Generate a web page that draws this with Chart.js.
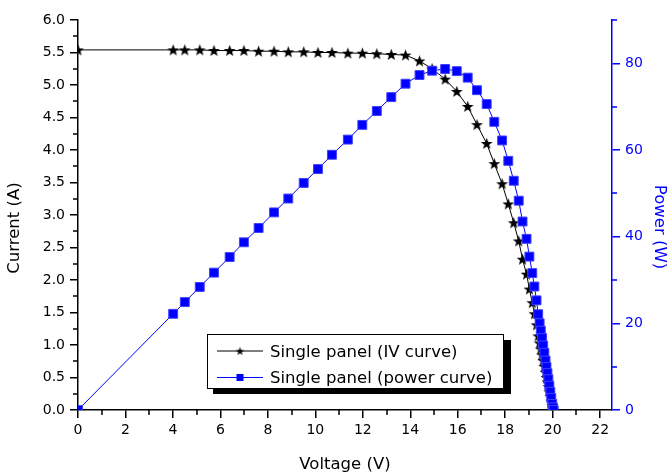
<!DOCTYPE html>
<html><head><meta charset="utf-8">
<script src="https://cdn.jsdelivr.net/npm/chart.js@4"></script>
<style>html,body{margin:0;padding:0;background:#fff}canvas{display:block}</style>
</head><body>
<canvas id="c" width="670" height="472"></canvas>
<script>
const voltage = [0, 4.01, 4.50, 5.13, 5.73, 6.39, 6.99, 7.61, 8.26, 8.86, 9.51, 10.11, 10.70, 11.37, 11.98, 12.59, 13.20, 13.80, 14.39, 14.92, 15.47, 15.96, 16.42, 16.81, 17.22, 17.54, 17.87, 18.13, 18.36, 18.57, 18.73, 18.90, 19.02, 19.14, 19.23, 19.32, 19.39, 19.45, 19.50, 19.55, 19.60, 19.65, 19.70, 19.74, 19.78, 19.82, 19.86, 19.90, 19.94, 19.98, 20.01, 20.04];
const current = [5.54, 5.54, 5.54, 5.54, 5.53, 5.53, 5.53, 5.52, 5.52, 5.51, 5.51, 5.50, 5.50, 5.49, 5.49, 5.48, 5.47, 5.46, 5.37, 5.25, 5.09, 4.90, 4.67, 4.39, 4.10, 3.79, 3.48, 3.17, 2.88, 2.60, 2.32, 2.09, 1.86, 1.65, 1.48, 1.31, 1.14, 1.03, 0.94, 0.85, 0.76, 0.67, 0.58, 0.50, 0.43, 0.36, 0.28, 0.21, 0.14, 0.07, 0.03, 0.00];
const power = [0, 22.2, 24.9, 28.4, 31.7, 35.3, 38.7, 42.0, 45.6, 48.8, 52.4, 55.6, 58.9, 62.4, 65.8, 69.0, 72.2, 75.3, 77.3, 78.3, 78.7, 78.2, 76.7, 73.8, 70.6, 66.5, 62.2, 57.5, 52.9, 48.3, 43.5, 39.5, 35.4, 31.6, 28.5, 25.3, 22.1, 20.0, 18.3, 16.6, 14.9, 13.2, 11.4, 9.9, 8.5, 7.1, 5.6, 4.2, 2.8, 1.4, 0.6, 0.0];
const seriesLabels = ['Single panel (IV curve)', 'Single panel (power curve)'];
const axisTitles = { x: 'Voltage (V)', y: 'Current (A)', y1: 'Power (W)' };
const xRange = [0, 22.5], xStep = 2, xMinor = 1;
const yRange = [0, 6], yStep = 0.5, yMinor = 0.25;
const y1Range = [0, 90], y1Step = 20, y1Minor = 10;

const BLUE = '#0000ff';
const FONT = '"DejaVu Sans", Verdana, sans-serif';

function makeStar(R, r, color) {
  const s = Math.ceil(R * 2 + 2);
  const c = document.createElement('canvas');
  c.width = s; c.height = s;
  const g = c.getContext('2d');
  g.fillStyle = color;
  g.beginPath();
  for (let i = 0; i < 10; i++) {
    const a = -Math.PI / 2 + i * Math.PI / 5;
    const rad = i % 2 ? r : R;
    g.lineTo(s / 2 + rad * Math.cos(a), s / 2 + rad * Math.sin(a) + 0.5);
  }
  g.closePath(); g.fill();
  return c;
}
const starImg = makeStar(6.2, 2.6, '#000');
const starSmall = makeStar(4.4, 1.8, '#000');

const ivData = voltage.map((v, i) => ({ x: v, y: current[i] }));
const pData = voltage.map((v, i) => ({ x: v, y: power[i] }));

const decor = {
  id: 'decor',
  afterDraw(chart) {
    const ctx = chart.ctx;
    const xs = chart.scales.x, ys = chart.scales.y, y1 = chart.scales.y1;
    const a = chart.chartArea;
    ctx.save();
    // minor ticks
    ctx.lineWidth = 1.5;
    ctx.strokeStyle = '#000';
    ctx.beginPath();
    for (let v = xRange[0] + xMinor; v <= xRange[1]; v += xStep) {
      const p = Math.round(xs.getPixelForValue(v));
      ctx.moveTo(p, a.bottom); ctx.lineTo(p, a.bottom + 5);
    }
    for (let v = yRange[0] + yMinor; v <= yRange[1]; v += yStep) {
      const p = Math.round(ys.getPixelForValue(v));
      ctx.moveTo(a.left - 5, p); ctx.lineTo(a.left, p);
    }
    ctx.stroke();
    ctx.strokeStyle = BLUE;
    ctx.beginPath();
    for (let v = y1Range[0] + y1Minor; v <= y1Range[1] + 0.01; v += y1Step) {
      const p = Math.round(y1.getPixelForValue(v));
      ctx.moveTo(a.right, p); ctx.lineTo(a.right + 5, p);
    }
    ctx.stroke();

    // axis titles
    ctx.font = '16.5px ' + FONT;
    ctx.fillStyle = '#000';
    ctx.textAlign = 'center';
    ctx.textBaseline = 'alphabetic';
    ctx.fillText(axisTitles.x, (a.left + a.right) / 2, 469);
    ctx.save();
    ctx.translate(19, 228); ctx.rotate(-Math.PI / 2);
    ctx.fillText(axisTitles.y, 0, 0);
    ctx.restore();
    ctx.save();
    ctx.fillStyle = BLUE;
    ctx.translate(655, 227); ctx.rotate(Math.PI / 2);
    ctx.fillText(axisTitles.y1, 0, 0);
    ctx.restore();

    // legend
    ctx.fillStyle = '#000';
    ctx.fillRect(213, 340, 298, 54);
    ctx.fillStyle = '#fff';
    ctx.fillRect(207, 334, 297, 55);
    ctx.lineWidth = 1;
    ctx.strokeStyle = '#000';
    ctx.strokeRect(207.5, 334.5, 296, 54);
    const rows = [351, 377.5];
    ctx.beginPath(); ctx.moveTo(217, rows[0]); ctx.lineTo(263, rows[0]); ctx.stroke();
    ctx.drawImage(starSmall, 240 - starSmall.width / 2, rows[0] - starSmall.height / 2);
    ctx.strokeStyle = BLUE;
    ctx.beginPath(); ctx.moveTo(217, rows[1]); ctx.lineTo(263, rows[1]); ctx.stroke();
    ctx.fillStyle = BLUE;
    ctx.fillRect(236.5, rows[1] - 3.5, 7, 7);
    ctx.fillStyle = '#000';
    ctx.textAlign = 'left';
    ctx.font = '16.5px ' + FONT;
    ctx.fillText(chart.data.datasets[0].label, 270, 356.5);
    ctx.fillText(chart.data.datasets[1].label, 270, 383);
    ctx.restore();
  }
};

new Chart(document.getElementById('c'), {
  type: 'line',
  data: {
    datasets: [
      {
        label: seriesLabels[0], data: ivData, yAxisID: 'y', order: 2,
        borderColor: '#000', borderWidth: 1, tension: 0,
        pointStyle: starImg, pointRadius: 6, pointHoverRadius: 6
      },
      {
        label: seriesLabels[1], data: pData, yAxisID: 'y1', order: 1,
        borderColor: BLUE, borderWidth: 1, tension: 0,
        pointStyle: 'rect', pointRadius: 6.3, pointHoverRadius: 6.3,
        pointBackgroundColor: BLUE, pointBorderColor: '#4040ff', pointBorderWidth: 1
      }
    ]
  },
  options: {
    responsive: false, animation: false, devicePixelRatio: 1,
    layout: { padding: { top: 20, left: 0, right: 0, bottom: 0 } },
    plugins: { legend: { display: false }, tooltip: { enabled: false } },
    scales: {
      x: {
        type: 'linear', position: 'bottom', min: xRange[0], max: xRange[1],
        ticks: { stepSize: xStep, includeBounds: false, color: '#000', padding: 4, maxRotation: 0,
                 font: { family: FONT, size: 14 }, callback: v => String(v) },
        grid: { drawOnChartArea: false, drawTicks: true, tickLength: 8, color: '#000', lineWidth: 1.5 },
        border: { display: true, color: '#000', width: 1.5 },
        afterFit(s) { s.height = 62; }
      },
      y: {
        type: 'linear', position: 'left', min: yRange[0], max: yRange[1],
        ticks: { stepSize: yStep, includeBounds: false, color: '#000', padding: 5,
                 font: { family: FONT, size: 14 }, callback: v => v.toFixed(1) },
        grid: { drawOnChartArea: false, drawTicks: true, tickLength: 8, color: '#000', lineWidth: 1.5 },
        border: { display: true, color: '#000', width: 1.5 },
        afterFit(s) { s.width = 78; }
      },
      y1: {
        type: 'linear', position: 'right', min: y1Range[0], max: y1Range[1],
        ticks: { stepSize: y1Step, includeBounds: false, color: BLUE, padding: 5,
                 font: { family: FONT, size: 14 }, callback: v => String(v) },
        grid: { drawOnChartArea: false, drawTicks: true, tickLength: 8, color: BLUE, lineWidth: 1.5 },
        border: { display: true, color: BLUE, width: 1.5 },
        afterFit(s) { s.width = 58; }
      }
    }
  },
  plugins: [decor]
});
</script>
</body></html>
